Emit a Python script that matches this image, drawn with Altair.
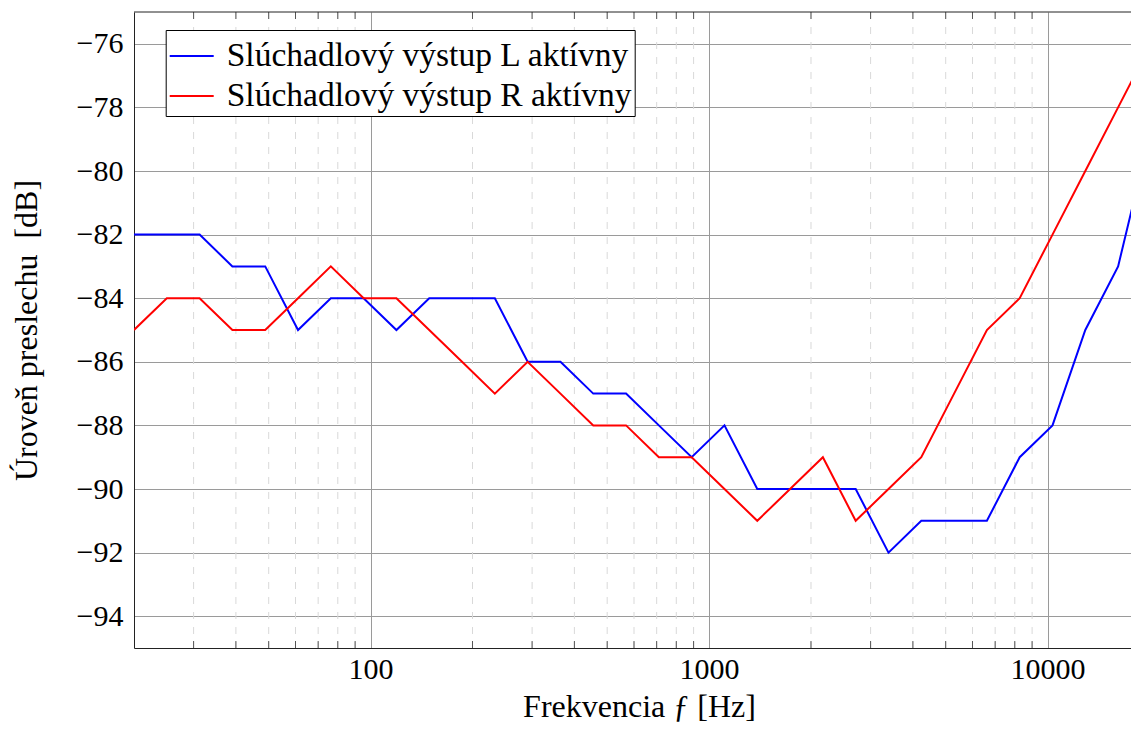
import altair as alt
import pandas as pd

# Frequencies (Hz) of the measured points
freq = [20, 25, 31.25, 39.06, 48.83, 61.04, 76.29, 95.37, 119.21, 149.01,
        186.26, 232.83, 291.04, 363.80, 454.75, 568.43, 710.54, 888.18,
        1110.22, 1387.78, 1734.72, 2168.40, 2710.51, 3388.13, 4235.16,
        5293.96, 6617.44, 8271.81, 10339.76, 12924.70, 16155.87, 20194.84]

# Crosstalk level (dB)
left_active = [-82, -82, -82, -83, -83, -85, -84, -84, -85, -84,
               -84, -84, -86, -86, -87, -87, -88, -89,
               -88, -90, -90, -90, -90, -92, -91,
               -91, -91, -89, -88, -85, -83, -78.7]
right_active = [-85, -84, -84, -85, -85, -84, -83, -84, -84, -85,
                -86, -87, -86, -87, -88, -88, -89, -89,
                -90, -91, -90, -89, -91, -90, -89,
                -87, -85, -84, -82, -80, -78, -76]

series_names = ["Slúchadlový výstup L aktívny", "Slúchadlový výstup R aktívny"]
series_colors = ["#0000ff", "#ff0000"]

major_x = [100, 1000, 10000]
minor_x = [30, 40, 50, 60, 70, 80, 90,
           200, 300, 400, 500, 600, 700, 800, 900,
           2000, 3000, 4000, 5000, 6000, 7000, 8000, 9000]
y_ticks = [-76, -78, -80, -82, -84, -86, -88, -90, -92, -94]

FONT = "Liberation Serif"
W, H = 997, 636

rows = []
for name, vals in zip(series_names, [left_active, right_active]):
    for f, v in zip(freq, vals):
        rows.append({"f": f, "db": v, "series": name})
df = pd.DataFrame(rows)
minor_df = pd.DataFrame({"f": minor_x})
one_df = pd.DataFrame({"a": [0]})

x_scale = alt.Scale(type="log", domain=[20, 17636], nice=False)
y_scale = alt.Scale(domain=[-95, -75], nice=False, zero=False)

x_axis = alt.Axis(values=major_x, format="d", grid=True, gridColor="#9a9a9a",
                  gridWidth=1, ticks=False, domain=True, domainColor="#222222",
                  domainWidth=1, labelFontSize=30,
                  labelPadding=6, title="Frekvencia ƒ [Hz]", titleFontSize=32,
                  titleBaseline="alphabetic", titleX=505, titleY=68)
y_axis = alt.Axis(values=y_ticks, grid=True, gridColor="#9a9a9a", gridWidth=1,
                  ticks=False, domain=True, domainColor="#222222", domainWidth=1,
                  labelFontSize=30, labelPadding=11,
                  title="Úroveň preslechu\u00a0 [dB]", titleFontSize=32,
                  titleBaseline="alphabetic", titleX=-98, titleY=318)

x_enc = alt.X("f:Q", scale=x_scale, axis=x_axis)

minor_grid = alt.Chart(minor_df).mark_rule(
    color="#d9d9d9", strokeWidth=1, strokeDash=[7, 8]
).encode(x=x_enc, y=alt.value(0), y2=alt.value(H))

minor_ticks_bottom = alt.Chart(minor_df).mark_rule(
    color="#555555", strokeWidth=1
).encode(x=x_enc, y=alt.value(H - 7), y2=alt.value(H))

minor_ticks_top = alt.Chart(minor_df).mark_rule(
    color="#555555", strokeWidth=1
).encode(x=x_enc, y=alt.value(0), y2=alt.value(7))

top_frame = alt.Chart(one_df).mark_rule(color="#222222", strokeWidth=1).encode(
    x=alt.value(0), x2=alt.value(W), y=alt.value(0)
)

lines = alt.Chart(df).mark_line(strokeWidth=2, clip=True).encode(
    x=x_enc,
    y=alt.Y("db:Q", scale=y_scale, axis=y_axis),
    color=alt.Color(
        "series:N",
        scale=alt.Scale(domain=series_names, range=series_colors),
        sort=series_names,
        legend=alt.Legend(
            orient="none", legendX=31.7, legendY=18, title=None,
            fillColor="white", strokeColor="black", padding=3,
            labelFont=FONT, labelFontSize=33.5, labelColor="black",
            symbolType="stroke", symbolSize=1936, symbolStrokeWidth=2,
            labelOffset=12, rowPadding=-4, labelLimit=0, cornerRadius=0,
        ),
    ),
    order=alt.Order("f:Q"),
)

chart = alt.layer(minor_grid, minor_ticks_bottom, minor_ticks_top, top_frame, lines).properties(
    width=W, height=H,
    autosize=alt.AutoSizeParams(type="none"),
    padding={"left": 126, "top": 4, "right": 0, "bottom": 76},
).configure_view(
    strokeWidth=0
).configure_axis(
    labelFont=FONT, titleFont=FONT, labelColor="black", titleColor="black",
    titleFontWeight="normal",
)

chart.save("out.html", embed_options={"renderer": "svg", "actions": False})
